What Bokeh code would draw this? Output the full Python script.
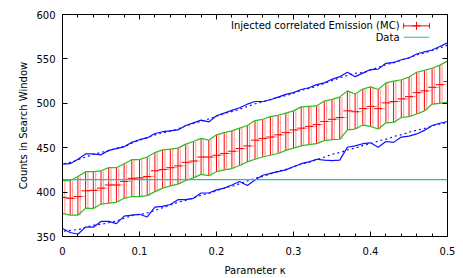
import numpy as np
from bokeh.plotting import figure
from bokeh.models import (Range1d, LinearAxis, FixedTicker,
                          CustomJSTickFormatter, Label)
from bokeh.embed import file_html
from bokeh.resources import INLINE

# ---------------- data ----------------
kappa = [round(i * 0.01, 2) for i in range(51)]

mc_center = [394, 393, 395, 401.5, 402, 404.5, 408, 408, 412, 415.5, 416,
             417.5, 424, 425.5, 427.5, 429.5, 433.5, 435, 439.5, 439.5, 441.5,
             443.5, 446, 449, 452, 458.5, 460.5, 462, 464.5, 467, 470,
             472, 474, 476, 479.5, 482, 484, 491.5, 490.5, 494, 496.5,
             494, 500.5, 502, 505, 507.5, 512, 514, 518, 521, 524.5]

mc_upper = [413, 413, 417.5, 423, 423, 424, 427.5, 427.5, 432, 436.5, 436.5,
            439.5, 444.5, 447.5, 448.5, 449.5, 454, 457, 460.5, 458.5, 464.5,
            467, 469, 472, 475, 480.5, 482, 485, 486.5, 489, 491.5,
            496, 496.5, 497, 502.5, 504.5, 507, 514, 510.5, 516, 518.5,
            515.5, 523, 525, 526.5, 529.5, 535, 537, 539.5, 543, 547.5]

mc_lower = [376, 374, 374, 382, 381.5, 386.5, 387.5, 388.5, 393, 395, 395,
            396, 400.5, 404.5, 407, 409, 413, 416, 420, 418.5, 423,
            425, 426.5, 430, 434, 437, 439.5, 441.5, 443.5, 447, 449.5,
            452, 453.5, 454.5, 458, 459, 459.5, 470, 471, 475.5, 474,
            471, 478, 478.5, 484, 485, 488, 491.5, 499, 500, 501.5]

band2_upper = [431.5, 432, 437, 443, 443, 442, 447, 449, 451, 456, 459,
               461, 466, 468, 469, 470, 475, 478, 481, 479, 486,
               489, 492, 495, 499, 502, 502, 504, 507, 510, 512,
               515.5, 517.5, 521, 523, 527, 530, 535, 530, 534, 538,
               538.5, 545, 546, 549, 551, 555.5, 558, 560, 564, 568]

band2_lower = [359, 354.5, 352.5, 360.5, 360.5, 367, 367, 364.5, 373, 374, 375,
               372, 383, 384, 386, 391.5, 391.5, 393, 399, 399, 402.5,
               404.5, 408, 412, 407.5, 413.5, 419, 421, 423, 425, 428.5,
               432, 434, 437, 436, 435.5, 436, 450.5, 452, 454.5, 455.5,
               450.5, 457, 456, 462, 463, 465.5, 469.5, 475, 477.5, 479.5]

band2_upper_exp = [432, 434, 437, 440, 443, 445, 447, 450, 452, 456, 459,
                   462, 465, 467, 469, 472, 475, 478, 480, 483, 486,
                   489, 491, 494, 497, 500, 502, 505, 507, 509, 512,
                   515, 517, 520, 523, 526, 529, 532, 534, 535, 538,
                   541, 544, 546, 549, 552, 555, 557, 560, 563, 566]

band2_lower_exp = [356, 357, 358, 361, 363, 364, 366, 368, 371, 374, 375,
                   377, 380, 383, 386, 389, 391, 394, 397, 399, 402,
                   405, 407, 410, 413, 416, 418, 421, 424, 426, 429,
                   432, 434, 437, 440, 443, 445, 448, 450, 453, 455,
                   458, 460, 463, 465, 468, 470, 472, 475, 477, 479]

data_level = 414

x_major_ticks = [0, 0.1, 0.2, 0.3, 0.4, 0.5]
x_minor_ticks = [round(i * 0.02, 2) for i in range(26)]
y_major_ticks = [350, 400, 450, 500, 550, 600]

legend_labels = ["Injected correlated Emission (MC)", "Data"]

# ---------------- styles ----------------
FONT = "DejaVu Sans"
RED = "#ff0000"
GREEN = "#33bb22"
BLUE = "#1010ff"
CYAN = "#22bbbb"

p = figure(width=463, height=278, output_backend="svg", toolbar_location=None,
           x_range=Range1d(0, 0.5), y_range=Range1d(350, 600),
           min_border_left=62, min_border_right=16, min_border_top=14,
           min_border_bottom=39,
           x_axis_label="Parameter κ", y_axis_label="Counts in Search Window")
p.grid.visible = False
p.outline_line_color = "black"
p.outline_line_width = 1

bottom_ax = p.xaxis[0]
left_ax = p.yaxis[0]

xfmt = CustomJSTickFormatter(code="return Math.abs(tick) < 1e-9 ? '0' : tick.toFixed(1);")

bottom_ax.ticker = FixedTicker(ticks=x_major_ticks, minor_ticks=x_minor_ticks)
bottom_ax.formatter = xfmt
bottom_ax.major_label_standoff = 10
bottom_ax.axis_label_standoff = 7
left_ax.ticker = FixedTicker(ticks=y_major_ticks, minor_ticks=[])
left_ax.major_label_standoff = 7
left_ax.axis_label_standoff = 4

# mirrored tick marks (no labels): use minor ticks only
right_ax = LinearAxis(ticker=FixedTicker(ticks=[], minor_ticks=y_major_ticks))
top_major_ax = LinearAxis(ticker=FixedTicker(ticks=[], minor_ticks=x_major_ticks))
top_minor_ax = LinearAxis(ticker=FixedTicker(ticks=[], minor_ticks=x_minor_ticks))
p.add_layout(right_ax, "right")
p.add_layout(top_major_ax, "above")
p.add_layout(top_minor_ax, "above")

for ax in [bottom_ax, left_ax, right_ax, top_major_ax, top_minor_ax]:
    ax.major_tick_in = 5
    ax.major_tick_out = 0
    ax.minor_tick_in = 3
    ax.minor_tick_out = 0
    ax.axis_line_color = "black"
    ax.major_tick_line_color = "black"
    ax.minor_tick_line_color = "black"
    ax.major_label_text_font = FONT
    ax.major_label_text_font_size = "10px"
    ax.major_label_text_color = "black"
    ax.axis_label_text_font = FONT
    ax.axis_label_text_font_size = "10px"
    ax.axis_label_text_font_style = "normal"
    ax.axis_label_text_color = "black"
right_ax.minor_tick_in = 5
top_major_ax.minor_tick_in = 5
for ax in [right_ax, top_major_ax, top_minor_ax]:
    ax.major_label_standoff = 0
    ax.axis_label_standoff = 0

# ---------------- glyphs ----------------
kx = np.array(kappa)
shift = 0.003

# 2-sigma bands (solid) and expectation (dotted)
p.line(kx, band2_upper, line_color=BLUE, line_width=1.2)
p.line(kx, band2_lower, line_color=BLUE, line_width=1.2)
p.line(kx + 0.002, band2_upper_exp, line_color=BLUE, line_width=1.2, line_dash="2 3")
p.line(kx + 0.002, band2_lower_exp, line_color=BLUE, line_width=1.2, line_dash="2 3")

# pale duplicate error bars
p.segment(x0=kx + shift, y0=mc_lower, x1=kx + shift, y1=mc_upper,
          line_color=RED, line_alpha=0.35, line_width=1.2)
p.scatter(kx + shift + 0.002, mc_center, marker="dash", size=6,
          line_color=RED, line_alpha=0.45, line_width=1)

# main error bars
p.segment(x0=kx, y0=mc_lower, x1=kx, y1=mc_upper, line_color=RED, line_width=1)
p.scatter(kx, mc_center, marker="dash", size=8, line_color=RED, line_width=1)

# 1-sigma outline
p.line(kx, mc_upper, line_color=GREEN, line_width=1.2)
p.line(kx, mc_lower, line_color=GREEN, line_width=1.2)

# Data
p.line([0, 0.5], [data_level, data_level], line_color=CYAN, line_width=1.2)

# ---------------- legend (manual, gnuplot style) ----------------
lx_text = 0.4377
lx0, lx1 = 0.443, 0.4766
ly = [587.2, 574.4]
p.add_layout(Label(x=lx_text, y=ly[0], text=legend_labels[0], text_align="right",
                   text_baseline="middle", text_font=FONT, text_font_size="10px",
                   text_color="black"))
p.add_layout(Label(x=lx_text, y=ly[1], text=legend_labels[1], text_align="right",
                   text_baseline="middle", text_font=FONT, text_font_size="10px",
                   text_color="black"))
p.segment(x0=[lx0], y0=[ly[0]], x1=[lx1], y1=[ly[0]], line_color=RED, line_width=1)
p.segment(x0=[lx0, lx1], y0=[ly[0] - 3, ly[0] - 3], x1=[lx0, lx1], y1=[ly[0] + 3, ly[0] + 3],
          line_color=RED, line_width=1)
p.scatter([(lx0 + lx1) / 2], [ly[0]], marker="cross", size=8, line_color=RED, line_width=1)
p.segment(x0=[lx0], y0=[ly[1]], x1=[lx1], y1=[ly[1]], line_color=CYAN, line_width=1.2)

open("out.html", "w").write(file_html(p, INLINE))
